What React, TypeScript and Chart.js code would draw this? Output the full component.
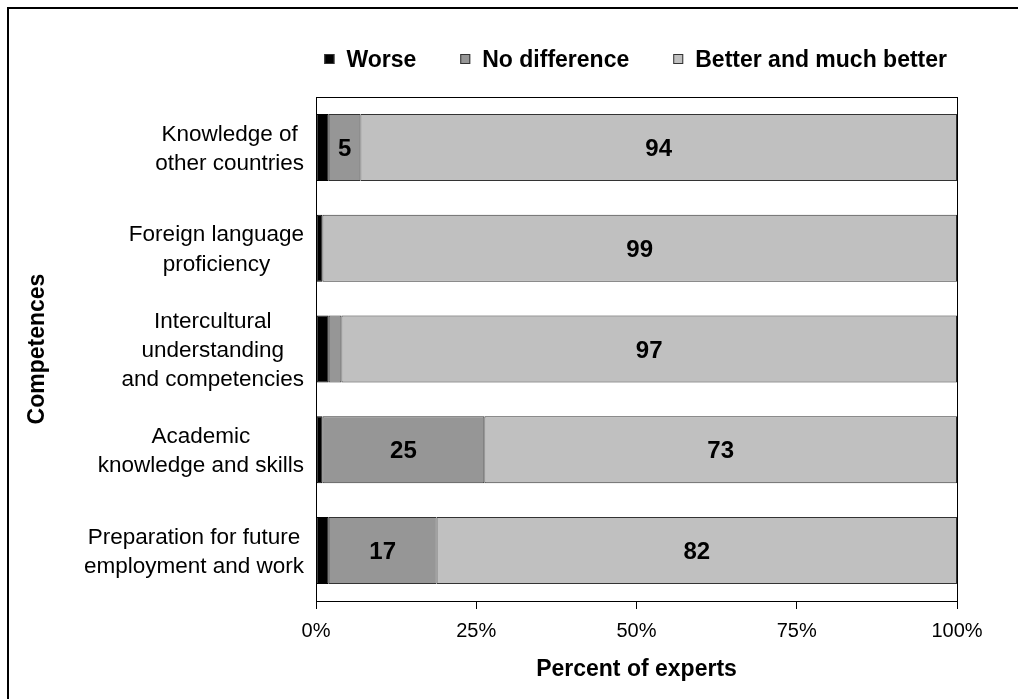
import React, { useEffect, useRef } from 'react';
import { Chart, registerables } from 'chart.js';

Chart.register(...registerables);

const categories: string[][] = [
  ['Knowledge of', 'other countries'],
  ['Foreign language', 'proficiency'],
  ['Intercultural', 'understanding', 'and competencies'],
  ['Academic', 'knowledge and skills'],
  ['Preparation for future', 'employment and work'],
];
const seriesNames = ['Worse', 'No difference', 'Better and much better'];
const worse = [2, 1, 2, 1, 2];
const noDifference = [5, 0, 2, 25, 17];
const better = [94, 99, 97, 73, 82];
const xTicks = [0, 25, 50, 75, 100];
const seriesColors = ['#000000', '#969696', '#c0c0c0'];
const xTitle = 'Percent of experts';
const yTitle = 'Competences';
const labelThreshold = 5;

const FONT = '"Liberation Sans", Arial, Helvetica, sans-serif';

export default function App() {
  const ref = useRef<HTMLCanvasElement | null>(null);

  useEffect(() => {
    const canvas = ref.current;
    if (!canvas) return;
    const raw = [worse, noDifference, better];
    const totals = categories.map((_, i) => worse[i] + noDifference[i] + better[i]);
    const pct = raw.map((s) => s.map((v, i) => (v / totals[i]) * 100));

    const customPlugin = {
      id: 'customDraw',
      beforeDraw(chart: any) {
        const ctx = chart.ctx;
        ctx.save();
        ctx.fillStyle = '#ffffff';
        ctx.fillRect(0, 0, chart.width, chart.height);
        ctx.fillStyle = '#000000';
        ctx.fillRect(7, 7, 2, chart.height);
        ctx.fillRect(7, 7, chart.width, 2);
        ctx.restore();
      },
      afterDatasetsDraw(chart: any) {
        const ctx = chart.ctx;
        const a = chart.chartArea;
        ctx.save();
        // plot frame
        ctx.strokeStyle = '#000000';
        ctx.lineWidth = 1;
        ctx.strokeRect(a.left + 0.5, a.top + 0.5, a.right - a.left, a.bottom - a.top);
        // data labels
        ctx.font = `bold 24px ${FONT}`;
        ctx.fillStyle = '#000000';
        ctx.textAlign = 'center';
        ctx.textBaseline = 'alphabetic';
        for (let d = 1; d < raw.length; d++) {
          const meta = chart.getDatasetMeta(d);
          meta.data.forEach((el: any, i: number) => {
            const v = raw[d][i];
            if (v < labelThreshold) return;
            const cx = (el.x + el.base) / 2;
            ctx.fillText(String(v), cx, el.y + 8.6);
          });
        }
        ctx.restore();
      },
      afterDraw(chart: any) {
        const ctx = chart.ctx;
        const a = chart.chartArea;
        const yScale = chart.scales.y;
        ctx.save();
        // category labels
        ctx.font = `22.5px ${FONT}`;
        ctx.fillStyle = '#000000';
        ctx.textAlign = 'center';
        ctx.textBaseline = 'alphabetic';
        const lineGap = 29.3;
        categories.forEach((lines, i) => {
          const yc = yScale.getPixelForValue(i);
          const maxW = Math.max(...lines.map((l) => ctx.measureText(l).width));
          const cx = a.left - 12 - maxW / 2;
          const n = lines.length;
          lines.forEach((line, j) => {
            ctx.fillText(line, cx, yc + 7.8 + (j - (n - 1) / 2) * lineGap);
          });
        });
        // legend
        ctx.font = `bold 23px ${FONT}`;
        ctx.textAlign = 'left';
        const box = 10;
        const gapText = 12;
        const spacing = 44;
        const widths = seriesNames.map((s) => ctx.measureText(s).width);
        const total =
          widths.reduce((acc, w) => acc + box + gapText + w, 0) + spacing * (seriesNames.length - 1);
        let x = a.right - 10 - total;
        const baseY = 66.7;
        seriesNames.forEach((name, k) => {
          ctx.fillStyle = seriesColors[k];
          ctx.fillRect(x, 54, box, box);
          ctx.strokeStyle = '#333333';
          ctx.lineWidth = 1;
          ctx.strokeRect(x + 0.5, 54.5, box - 1, box - 1);
          ctx.fillStyle = '#000000';
          ctx.fillText(name, x + box + gapText, baseY);
          x += box + gapText + widths[k] + spacing;
        });
        ctx.restore();
      },
    };

    const chart = new Chart(canvas, {
      type: 'bar',
      data: {
        labels: categories.map((c) => c.join(' ')),
        datasets: seriesNames.map((name, k) => ({
          label: name,
          data: pct[k],
          backgroundColor: seriesColors[k],
          borderColor: k === 0 ? '#000000' : '#333333',
          borderWidth: 1,
          borderSkipped: false,
          barPercentage: 0.665,
          categoryPercentage: 1,
        })),
      },
      options: {
        indexAxis: 'y',
        responsive: false,
        animation: false,
        layout: { padding: { left: 10, right: 61, top: 97, bottom: 10 } },
        plugins: {
          legend: { display: false },
          tooltip: { enabled: false },
        },
        scales: {
          x: {
            stacked: true,
            min: 0,
            max: 100,
            afterBuildTicks: (scale: any) => {
              scale.ticks = xTicks.map((v) => ({ value: v }));
            },
            afterFit: (scale: any) => {
              scale.height = 88;
            },
            ticks: {
              callback: (v: any) => `${v}%`,
              font: { family: FONT, size: 20 },
              color: '#000000',
              padding: 10,
              maxRotation: 0,
            },
            grid: {
              display: true,
              drawOnChartArea: false,
              drawTicks: true,
              tickLength: 8,
              color: '#000000',
            },
            border: { display: true, color: '#000000', width: 1 },
            title: {
              display: true,
              text: xTitle,
              color: '#000000',
              font: { family: FONT, size: 23, weight: 'bold' },
              padding: { top: 4, bottom: 6 },
            },
          },
          y: {
            stacked: true,
            afterFit: (scale: any) => {
              scale.width = 306;
            },
            ticks: { display: false },
            grid: { display: false },
            border: { display: true, color: '#000000', width: 1 },
            title: {
              display: true,
              text: yTitle,
              color: '#000000',
              font: { family: FONT, size: 23, weight: 'bold' },
              padding: { top: 14, bottom: 0 },
            },
          },
        },
      },
      plugins: [customPlugin],
    } as any);

    return () => chart.destroy();
  }, []);

  return (
    <div style={{ position: 'absolute', left: 0, top: 0, width: 1018, height: 699 }}>
      <canvas ref={ref} width={1018} height={699} style={{ display: 'block' }} />
    </div>
  );
}
